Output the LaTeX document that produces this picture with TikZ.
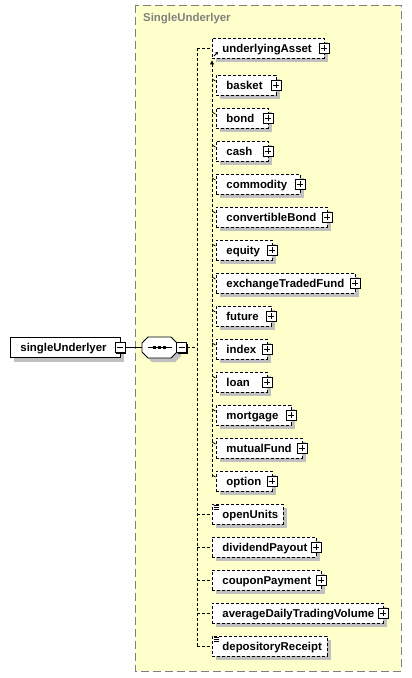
\documentclass[tikz,border=0pt]{standalone}
\usepackage{fontspec}
\setmainfont{Liberation Sans}
\usetikzlibrary{shadows,arrows.meta}
\definecolor{bgyellow}{HTML}{FFFFCC}
\definecolor{shgray}{HTML}{C0C0C0}
\definecolor{framegray}{HTML}{808080}
\tikzset{
  lbl/.style={font=\fontsize{11.4}{13}\selectfont\bfseries},
  elem/.style={draw, fill=white, line width=0.9pt, dash pattern=on 3pt off 2pt,
    anchor=west, minimum height=20pt, inner xsep=10pt, inner ysep=0pt,
    text width=#1, align=left, lbl, text height=9pt, text depth=1pt,
    general shadow={fill=shgray, shadow xshift=4pt, shadow yshift=-4pt}},
  rootelem/.style={elem=#1, solid},
  iconbox/.style={draw, fill=white, solid, line width=0.8pt, minimum size=10pt, inner sep=0pt,
    general shadow={fill=black, shadow xshift=1pt, shadow yshift=-1pt}},
  plusicon/.style={iconbox, path picture={
    \draw[line width=0.8pt] ([xshift=2pt]path picture bounding box.west) -- ([xshift=-2pt]path picture bounding box.east)
      ([yshift=-2pt]path picture bounding box.north) -- ([yshift=2pt]path picture bounding box.south);}},
  minusicon/.style={iconbox, path picture={
    \draw[line width=0.8pt] ([xshift=2pt]path picture bounding box.west) -- ([xshift=-2pt]path picture bounding box.east);}},
  seqnode/.style={rectangle, minimum width=35pt, minimum height=21pt, inner sep=0pt},
  conn/.style={line width=0.9pt, dash pattern=on 3pt off 2pt},
  solidconn/.style={line width=0.9pt},
  tick/.style={line width=0.8pt},
}
\begin{document}
\begin{tikzpicture}[x=1pt,y=-1pt]
\useasboundingbox (0,0) rectangle (412,678);
% container
\path[draw=framegray, fill=bgyellow, line width=1pt, dash pattern=on 8pt off 4pt] (135,5) rectangle (401,671);
\node[anchor=west, lbl, text=framegray, inner sep=0pt] (title) at (143,19) {SingleUnderlyer};

% root
\node[rootelem=90pt] (su) at (10,347.5) {singleUnderlyer};
\node[minusicon] (sum) at ([xshift=-1pt]su.east) {};

% sequence compositor
\node[seqnode] (seq) at (159.5,347.5) {};
\begin{scope}[shift={(seq.center)}]
  \fill[shgray] (-13.5,-6.5) -- (15.5,-6.5) -- (21.5,-0.5) -- (21.5,8.5) -- (15.5,14.5) -- (-7.5,14.5) -- (-13.5,8.5) -- cycle;
  \filldraw[fill=white, line width=0.9pt] (-17.5,-4.5) -- (-11.5,-10.5) -- (11.5,-10.5) -- (17.5,-4.5) -- (17.5,4.5) -- (11.5,10.5) -- (-11.5,10.5) -- (-17.5,4.5) -- cycle;
  \draw[line width=0.9pt] (-12,0) -- (12,0);
  \foreach \dx in {-5,0,5}
    \fill (\dx-1.6,-1.6) rectangle (\dx+1.6,1.6);
\end{scope}
\node[minusicon, anchor=west] (seqm) at ([xshift=-1pt]seq.east) {};

% head element
\node[elem=92pt] (ua) at (212,48) {underlyingAsset};
\node[plusicon] (uap) at ([xshift=-1pt]ua.east) {};
\draw[line width=0.8pt, -{Triangle[length=2.5pt,width=3pt]}] ([xshift=2pt,yshift=2.5pt]ua.south west) -- ++(4pt,4pt);

% substitution members
\foreach \nm/\txt/\yy/\w in {
  basket/basket/85/40,
  bond/bond/118/32,
  cash/cash/151/32,
  commodity/commodity/184/64,
  convertibleBond/convertibleBond/217/91,
  equity/equity/250/36,
  etf/exchangeTradedFund/283/119,
  future/future/316/35,
  index/index/349/31,
  loan/loan/382/31,
  mortgage/mortgage/415/55,
  mutualFund/mutualFund/448/66,
  option/option/481/36}{
  \node[elem=\w pt] (\nm) at (216,\yy) {\txt};
  \node[plusicon] (\nm p) at ([xshift=-1pt]\nm.east) {};
}
\coordinate (subx) at (212,0);
\draw[conn, -{Triangle[length=4pt,width=4pt]}] ([yshift=4pt]option.west -| subx) -- ([yshift=-2pt]ua.south -| subx);
\foreach \nm in {basket,bond,cash,commodity,convertibleBond,equity,etf,future,index,loan,mortgage,mutualFund,option}
  \draw[tick] ([yshift=6pt]\nm.west -| subx) -- ([yshift=4pt,xshift=-0.5pt]\nm.west);

% other sequence children
\node[elem=51pt] (ou) at (212,514) {openUnits};
\node[elem=84pt] (dp) at (212,547) {dividendPayout};
\node[plusicon] (dpp) at ([xshift=-1pt]dp.east) {};
\node[elem=89pt] (cp) at (212,580) {couponPayment};
\node[plusicon] (cpp) at ([xshift=-1pt]cp.east) {};
\node[elem=151pt] (adtv) at (212,613) {averageDailyTradingVolume};
\node[plusicon] (adtvp) at ([xshift=-1pt]adtv.east) {};
\node[elem=95pt] (dr) at (212,646) {depositoryReceipt};
\foreach \nm in {ou,dr}
  \foreach \k in {0,1,2}
    \draw[line width=0.7pt] ([xshift=1.5pt,yshift=-2pt-1.8*\k pt]\nm.north west) -- ++(5pt,0);

% connectors
\coordinate (bus) at (197,347.5);
\draw[solidconn] (sum.east) -- (seq.west);
\draw[conn] (seqm.east) -- (bus);
\draw[conn] (ua.west -| bus) -- (dr.west -| bus);
\foreach \nm in {ua,ou,dp,cp,adtv,dr}
  \draw[conn] (\nm.west -| bus) -- (\nm.west);
\end{tikzpicture}
\end{document}
